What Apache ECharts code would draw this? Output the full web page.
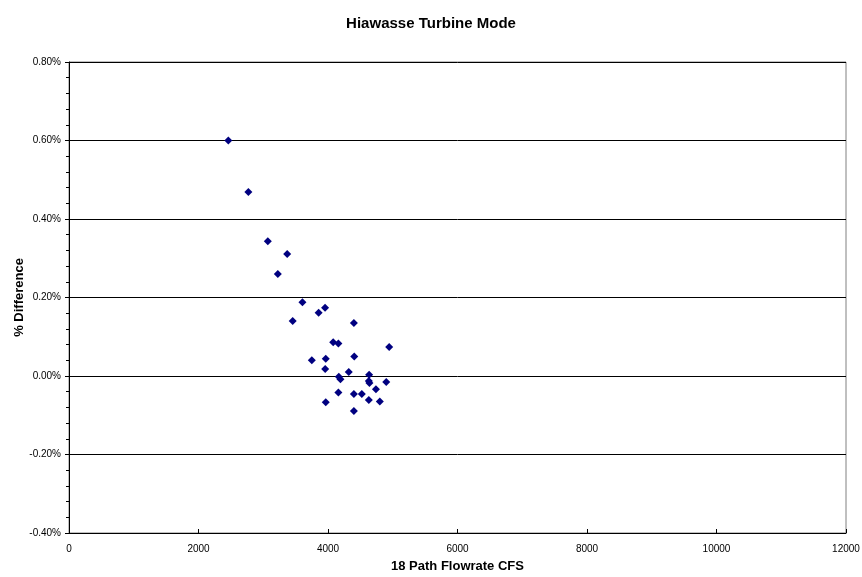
<!DOCTYPE html>
<html>
<head>
<meta charset="utf-8">
<script src="https://cdn.jsdelivr.net/npm/echarts@6/dist/echarts.min.js"></script>
<style>
html,body{margin:0;padding:0;background:#fff;}
#c{width:862px;height:577px;}
</style>
</head>
<body>
<div id="c"></div>
<script>
var chartTitle = 'Hiawasse Turbine Mode';
var xAxisTitle = '18 Path Flowrate CFS';
var yAxisTitle = '% Difference';
// flowrate (CFS)
var flowrate = [2460, 2770, 3070, 3370, 3225, 3605, 3955, 3855, 3455, 4400,
                4080, 4160, 4945, 3750, 3965, 4405, 3957, 4320, 4635, 4167,
                4192, 4630, 4640, 4900, 4740, 4160, 4400, 4522, 4630, 4800,
                3965, 4400];
// percent difference (%)
var pctDiff = [0.600, 0.469, 0.343, 0.311, 0.260, 0.188, 0.174, 0.161, 0.140, 0.135,
               0.086, 0.083, 0.074, 0.040, 0.044, 0.050, 0.018, 0.010, 0.003, -0.002,
               -0.008, -0.013, -0.018, -0.015, -0.034, -0.042, -0.046, -0.046, -0.061, -0.065,
               -0.067, -0.089];

var points = flowrate.map(function (x, i) { return [x, pctDiff[i]]; });

var chart = echarts.init(document.getElementById('c'));
var font = 'Liberation Sans, Arial, sans-serif';
chart.setOption({
  animation: false,
  backgroundColor: '#ffffff',
  title: {
    text: chartTitle,
    left: 'center',
    top: 11,
    textStyle: { fontFamily: font, fontSize: 15, fontWeight: 'bold', color: '#000' }
  },
  grid: {
    left: 69, right: 16, top: 62, bottom: 44,
    containLabel: false, outerBoundsMode: 'none',
    show: true, borderColor: '#808080', borderWidth: 1
  },
  xAxis: {
    type: 'value',
    min: 0, max: 12000, interval: 2000,
    name: xAxisTitle,
    nameLocation: 'middle',
    nameGap: 27,
    nameMoveOverlap: false,
    nameTextStyle: { fontFamily: font, fontSize: 13, fontWeight: 'bold', color: '#000' },
    axisLine: { show: true, onZero: false, lineStyle: { color: '#000', width: 1 } },
    axisTick: { show: true, inside: true, length: 4, lineStyle: { color: '#000' } },
    axisLabel: {
      fontFamily: font, fontSize: 10, color: '#000', margin: 11,
      formatter: function (v) { return String(v); }
    },
    splitLine: { show: false }
  },
  yAxis: {
    type: 'value',
    min: -0.4, max: 0.8, interval: 0.2,
    name: yAxisTitle,
    nameLocation: 'middle',
    nameGap: 43,
    nameMoveOverlap: false,
    nameTextStyle: { fontFamily: font, fontSize: 13, fontWeight: 'bold', color: '#000' },
    axisLine: { show: true, lineStyle: { color: '#000', width: 1 } },
    axisTick: { show: true, length: 4, lineStyle: { color: '#000' } },
    minorTick: { show: true, splitNumber: 5, length: 3, lineStyle: { color: '#000' } },
    axisLabel: {
      fontFamily: font, fontSize: 10, color: '#000', margin: 8,
      formatter: function (v) { return v.toFixed(2) + '%'; }
    },
    splitLine: { show: true, lineStyle: { color: '#000', width: 1 } }
  },
  series: [{
    type: 'scatter',
    symbol: 'diamond',
    symbolSize: 8,
    itemStyle: { color: '#000080', opacity: 1 },
    data: points
  }]
});
</script>
</body>
</html>
